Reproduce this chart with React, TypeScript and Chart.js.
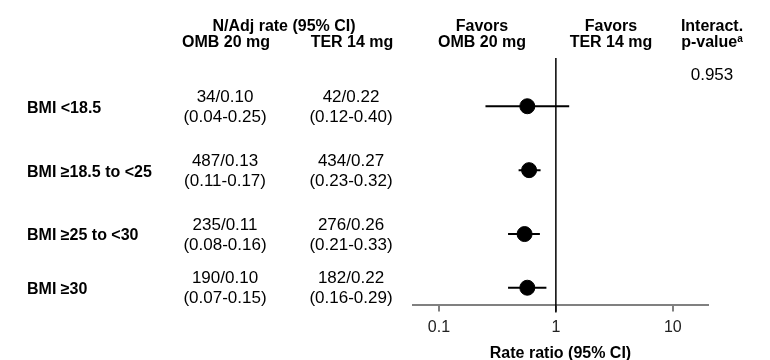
import React, { useEffect, useRef } from 'react';
import { Chart, registerables } from 'chart.js';

Chart.register(...registerables);

const groups = ['BMI <18.5', 'BMI ≥18.5 to <25', 'BMI ≥25 to <30', 'BMI ≥30'];
const ombRate = ['34/0.10', '487/0.13', '235/0.11', '190/0.10'];
const ombCI = ['(0.04-0.25)', '(0.11-0.17)', '(0.08-0.16)', '(0.07-0.15)'];
const terRate = ['42/0.22', '434/0.27', '276/0.26', '182/0.22'];
const terCI = ['(0.12-0.40)', '(0.23-0.32)', '(0.21-0.33)', '(0.16-0.29)'];
const rateRatio = [0.57, 0.59, 0.54, 0.57];
const ciLow = [0.25, 0.48, 0.39, 0.39];
const ciHigh = [1.3, 0.74, 0.73, 0.83];
const rowPos = [4, 3, 2, 1.16];
const pValue = '0.953';
const xTicks = [0.1, 1, 10];

const FONT = "'Liberation Sans', Arial, Helvetica, sans-serif";

export default function App() {
  const ref = useRef<HTMLCanvasElement>(null);

  useEffect(() => {
    const canvas = ref.current!;
    const ciDatasets = groups.map((g, i) => ({
      type: 'line' as const,
      label: g + ' CI',
      data: [
        { x: ciLow[i], y: rowPos[i] },
        { x: ciHigh[i], y: rowPos[i] },
      ],
      borderColor: '#000',
      borderWidth: 2,
      pointRadius: 0,
      pointHoverRadius: 0,
      showLine: true,
      order: 2,
    }));
    const pointDataset = {
      type: 'scatter' as const,
      label: 'Rate ratio',
      data: groups.map((_, i) => ({ x: rateRatio[i], y: rowPos[i] })),
      backgroundColor: '#000',
      borderColor: '#000',
      pointRadius: 7.5,
      pointHoverRadius: 7.5,
      order: 1,
    };

    const textPlugin = {
      id: 'forestText',
      beforeDatasetsDraw(chart: any) {
        const { ctx, scales, chartArea } = chart;
        const px = scales.x.getPixelForValue(1);
        ctx.save();
        ctx.strokeStyle = '#000';
        ctx.lineWidth = 1.5;
        ctx.beginPath();
        ctx.moveTo(px, chartArea.top);
        ctx.lineTo(px, chartArea.bottom + 8);
        ctx.stroke();
        ctx.restore();
      },
      afterDraw(chart: any) {
        const { ctx, scales } = chart;
        const bold = `bold 16px ${FONT}`;
        const reg = `17px ${FONT}`;
        ctx.save();
        ctx.fillStyle = '#000';
        ctx.textBaseline = 'middle';
        ctx.textAlign = 'center';
        ctx.font = bold;
        ctx.fillText('N/Adj rate (95% CI)', 284, 27);
        ctx.fillText('OMB 20 mg', 226, 43);
        ctx.fillText('TER 14 mg', 352, 43);
        ctx.fillText('Favors', 482, 27);
        ctx.fillText('OMB 20 mg', 482, 43);
        ctx.fillText('Favors', 611, 27);
        ctx.fillText('TER 14 mg', 611, 43);
        ctx.fillText('Interact.', 712, 27);
        // p-value with superscript a
        const pw = ctx.measureText('p-value').width;
        ctx.font = `bold 10px ${FONT}`;
        const aw = ctx.measureText('a').width;
        const startX = 712 - (pw + aw) / 2;
        ctx.textAlign = 'left';
        ctx.font = bold;
        ctx.fillText('p-value', startX, 43);
        ctx.font = `bold 10px ${FONT}`;
        ctx.fillText('a', startX + pw, 39);
        ctx.textAlign = 'center';
        ctx.font = reg;
        ctx.fillText(pValue, 712, 75);

        groups.forEach((g, i) => {
          const py = scales.y.getPixelForValue(rowPos[i]);
          ctx.font = bold;
          ctx.textAlign = 'left';
          ctx.fillText(g, 27, py + 2);
          ctx.font = reg;
          ctx.textAlign = 'center';
          ctx.fillText(ombRate[i], 225, py - 9);
          ctx.fillText(ombCI[i], 225, py + 11);
          ctx.fillText(terRate[i], 351, py - 9);
          ctx.fillText(terCI[i], 351, py + 11);
        });
        ctx.restore();
      },
    };

    const chart = new Chart(canvas, {
      type: 'scatter',
      data: { datasets: [...ciDatasets, pointDataset] as any },
      options: {
        animation: false,
        responsive: false,
        devicePixelRatio: 1,
        layout: { padding: { left: 413, right: 62, top: 58, bottom: 0 } },
        plugins: { legend: { display: false }, tooltip: { enabled: false } },
        scales: {
          x: {
            type: 'logarithmic',
            position: 'bottom',
            min: 0.06,
            max: 20,
            afterBuildTicks: (scale: any) => {
              scale.ticks = xTicks.map((v) => ({ value: v }));
            },
            ticks: {
              autoSkip: false,
              maxRotation: 0,
              padding: 6,
              color: '#222',
              font: { family: FONT, size: 16 },
              callback: (v: any) => String(v),
            },
            grid: {
              drawOnChartArea: false,
              drawTicks: true,
              tickLength: 7,
              color: '#808080',
              lineWidth: 2,
            },
            border: { display: true, color: '#808080', width: 2 },
            title: {
              display: true,
              text: 'Rate ratio (95% CI)',
              color: '#000',
              font: { family: FONT, size: 16, weight: 'bold' },
              padding: { top: 1, bottom: -3 },
            },
          },
          y: {
            type: 'linear',
            display: false,
            min: 0.896,
            max: 4.755,
          },
        },
      },
      plugins: [textPlugin],
    });
    return () => chart.destroy();
  }, []);

  return (
    <div style={{ position: 'absolute', left: 0, top: 0, width: 770, height: 360 }}>
      <canvas ref={ref} width={770} height={360} style={{ width: 770, height: 360 }} />
    </div>
  );
}
